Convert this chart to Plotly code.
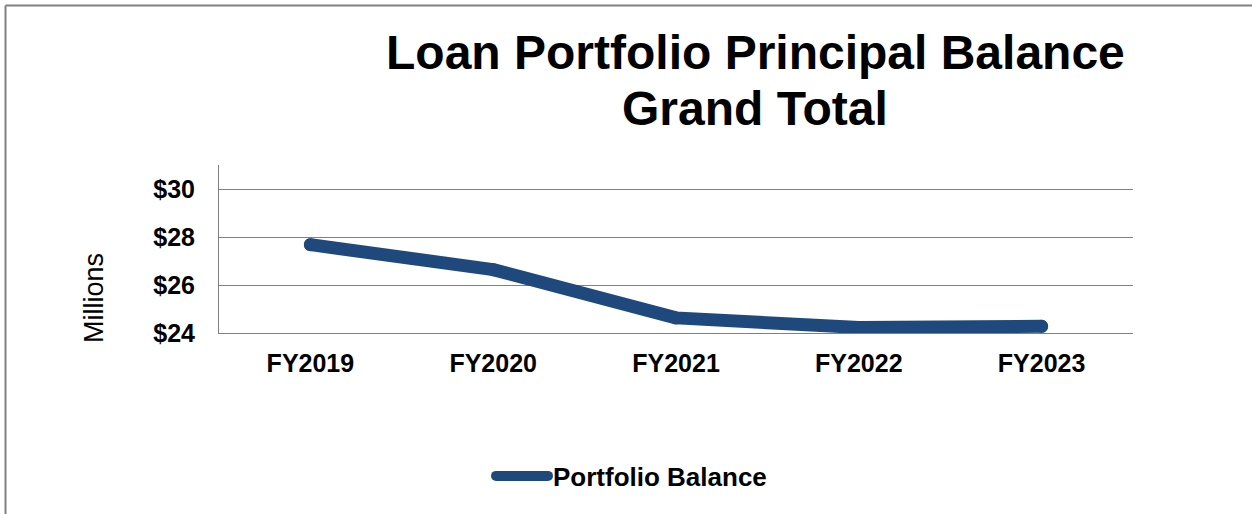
import plotly.graph_objects as go

categories = ["FY2019", "FY2020", "FY2021", "FY2022", "FY2023"]
balance = [27.68, 26.64, 24.63, 24.23, 24.28]
y_ticks = [24, 26, 28, 30]
y_tick_labels = ["$24", "$26", "$28", "$30"]

W, H = 1252, 514
L, R, T, B = 219, 1133, 165, 333
FONT = "Arial, Liberation Sans, sans-serif"
BLUE = "#1F497D"
GREY = "#808080"


def xp(px):
    return (px - L) / (R - L)


def yp(py):
    return (B - py) / (B - T)


fig = go.Figure()
fig.add_trace(go.Scatter(
    x=categories, y=balance, mode="lines", name="Portfolio Balance",
    line=dict(color=BLUE, width=13), hoverinfo="x+y",
))
fig.add_trace(go.Scatter(
    x=categories, y=balance, mode="markers", showlegend=False,
    marker=dict(color=BLUE, size=13, line=dict(width=0)), hoverinfo="skip",
))

fig.update_layout(
    width=W, height=H,
    margin=dict(l=L, r=W - R, t=T, b=H - B, autoexpand=False),
    paper_bgcolor="white", plot_bgcolor="white",
    font=dict(family=FONT, color="black"),
    showlegend=True,
    legend=dict(
        orientation="h", x=xp(491), y=yp(476), xanchor="left", yanchor="middle",
        font=dict(size=26, family=FONT, color="black", weight="bold"),
        itemwidth=52, bgcolor="rgba(0,0,0,0)",
    ),
    xaxis=dict(
        type="category", range=[-0.5, len(categories) - 0.5],
        showgrid=False, showline=True, linecolor=GREY, linewidth=1,
        ticks="", tickfont=dict(size=25, family=FONT, color="black", weight="bold"),
        ticklabelstandoff=8, zeroline=False, fixedrange=True,
    ),
    yaxis=dict(
        range=[24, 31], tickvals=y_ticks, ticktext=y_tick_labels,
        showgrid=True, gridcolor=GREY, gridwidth=1, showline=True, linecolor=GREY,
        linewidth=1, ticks="", zeroline=False,
        tickfont=dict(size=25, family=FONT, color="black", weight="bold"),
        ticklabelstandoff=18, fixedrange=True,
    ),
    annotations=[
        dict(text="<b>Loan Portfolio Principal Balance</b>", xref="paper", yref="paper",
             x=xp(755), y=yp(70.5), xanchor="center", yanchor="bottom", showarrow=False,
             font=dict(size=48, family=FONT, color="black"), yshift=-11),
        dict(text="<b>Grand Total</b>", xref="paper", yref="paper",
             x=xp(755), y=yp(126), xanchor="center", yanchor="bottom", showarrow=False,
             font=dict(size=48, family=FONT, color="black"), yshift=-11),
        dict(text="Millions", xref="paper", yref="paper", x=xp(94), y=yp(298),
             xanchor="center", yanchor="middle", textangle=-90, showarrow=False,
             font=dict(size=27, family=FONT, color="black")),
    ],
    shapes=[
        dict(type="line", xref="paper", yref="paper", x0=xp(5.5), x1=xp(5.5),
             y0=yp(5.5), y1=yp(H + 10), line=dict(color=GREY, width=2)),
        dict(type="line", xref="paper", yref="paper", x0=xp(5.5), x1=xp(W + 10),
             y0=yp(5.5), y1=yp(5.5), line=dict(color=GREY, width=2)),
    ],
)

post = """
document.body.style.margin = '0';
document.body.style.padding = '0';
document.querySelectorAll('.legendlines path, .scatterlayer path.js-line').forEach(function(p){
  p.style.strokeLinecap = 'round';
  p.style.strokeLinejoin = 'round';
});
"""

fig.write_html("out.html", post_script=post, config={"displayModeBar": False})
